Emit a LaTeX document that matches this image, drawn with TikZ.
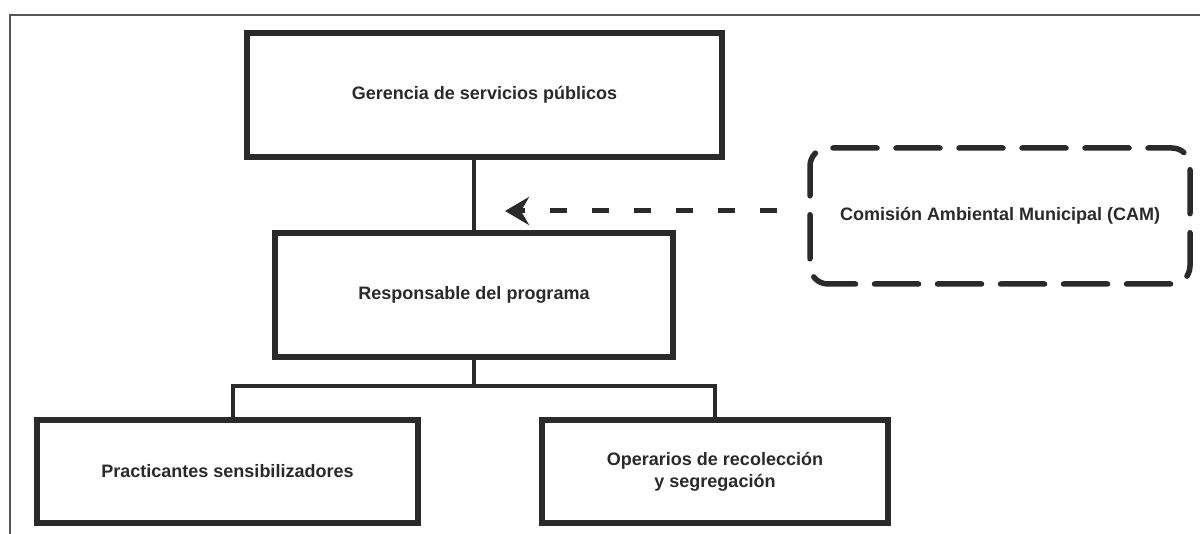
\documentclass[tikz,border=0pt]{standalone}
\usepackage{fontspec}
\setmainfont{Liberation Sans}
\usetikzlibrary{arrows.meta}
\definecolor{ink}{HTML}{2A2A2A}
\definecolor{framegray}{HTML}{555555}
\begin{document}
\begin{tikzpicture}[x=1pt,y=-1pt,
  orgbox/.style={draw=ink, line width=5.5pt, rectangle, inner sep=0pt, align=center,
    font=\fontsize{18}{22}\selectfont\bfseries, text=ink},
  cambox/.style={draw=ink, line width=5.5pt, rectangle, rounded corners=18pt, inner sep=0pt,
    dash pattern=on 44pt off 19pt, dash phase=20pt, line cap=round, align=center,
    font=\fontsize{18}{22}\selectfont\bfseries, text=ink},
  link/.style={draw=ink, line width=4.5pt},
  dashlink/.style={draw=ink, line width=5pt, dash pattern=on 17pt off 25pt,
    -{Stealth[length=24pt,width=28pt,inset=8pt]}},
  framestyle/.style={draw=framegray, line width=2.5pt}
]
\useasboundingbox (0,0) rectangle (1200,534);
\fill[white] (0,0) rectangle (1200,534);

% outer frame
\coordinate (frBL) at (10,534);
\coordinate (frTL) at (10,15);
\coordinate (frTR) at (1200,15);
\draw[framestyle] (frBL) -- (frTL) -- (frTR);

% boxes
\node[orgbox, minimum width=475pt, minimum height=124pt] (ger) at (484.5,95)
  {Gerencia de servicios públicos};
\node[orgbox, minimum width=398pt, minimum height=124pt] (resp) at (474,295)
  {Responsable del programa};
\node[orgbox, minimum width=381pt, minimum height=103pt] (pract) at (227.5,471.5)
  {Practicantes sensibilizadores};
\node[orgbox, minimum width=346pt, minimum height=103pt] (oper) at (715,471.5)
  {Operarios de recolección\\y segregación};
\node[cambox, minimum width=380pt, minimum height=136pt] (cam) at (1000,216)
  {Comisión Ambiental Municipal (CAM)};

% connectors
\draw[link] (resp.north) -- (resp.north |- ger.south);
\coordinate (busL) at (233,386);
\coordinate (busR) at (715,386);
\draw[link] (resp.south) -- (resp.south |- busL);
\draw[link] (pract.north -| busL) -- (busL) -- (busR) -- (oper.north);

% dashed arrow
\coordinate (tip) at (505,211);
\draw[dashlink] ([xshift=-30pt,yshift=5pt]cam.west) -- (tip);
\end{tikzpicture}
\end{document}
